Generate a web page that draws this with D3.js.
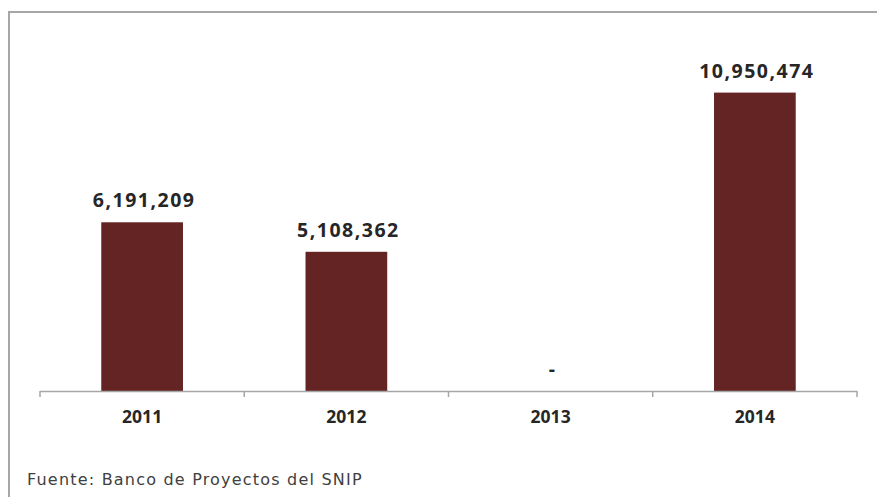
<!DOCTYPE html>
<html>
<head>
<meta charset="utf-8">
<script src="https://cdn.jsdelivr.net/npm/d3@7"></script>
<style>
  body { margin: 0; background: #fff; }
  svg { display: block; }
</style>
</head>
<body>
<svg></svg>
<script>
const years = ["2011", "2012", "2013", "2014"];
const values = [6191209, 5108362, 0, 10950474];
const yMax = 12000000;
const source = "Fuente: Banco de Proyectos del SNIP";

const width = 877;
const height = 497;
const svg = d3.select("svg").attr("width", width).attr("height", height);

// marco del gráfico
svg.append("path")
  .attr("d", `M9,${height + 2} V12 H${width + 2}`)
  .attr("fill", "none")
  .attr("stroke", "#a6a6a6")
  .attr("stroke-width", 2);

const margin = { left: 40, right: 20, top: 64, bottom: 106 };
const axisY = height - margin.bottom; // 391

const xScale = d3.scaleBand()
  .domain(years)
  .range([margin.left, width - margin.right])
  .paddingInner(0.6)
  .paddingOuter(0.3);

const yScale = d3.scaleLinear().domain([0, yMax]).range([axisY, margin.top]);

// barras
svg.selectAll("rect.bar")
  .data(values)
  .enter()
  .append("rect")
  .attr("class", "bar")
  .attr("x", (d, i) => xScale(years[i]))
  .attr("y", (d) => yScale(d))
  .attr("width", xScale.bandwidth())
  .attr("height", (d) => axisY - yScale(d))
  .attr("fill", "#632423");

// eje x con separadores entre categorías
const bounds = d3.range(years.length + 1).map((i) => margin.left + i * (width - margin.left - margin.right) / years.length);
const axisG = svg.append("g");
axisG.append("line")
  .attr("x1", bounds[0]).attr("x2", bounds[bounds.length - 1])
  .attr("y1", axisY + 0.5).attr("y2", axisY + 0.5)
  .attr("stroke", "#a6a6a6").attr("stroke-width", 1.5);
axisG.selectAll("line.tick")
  .data(bounds)
  .enter()
  .append("line")
  .attr("class", "tick")
  .attr("x1", (d) => d).attr("x2", (d) => d)
  .attr("y1", axisY).attr("y2", axisY + 6)
  .attr("stroke", "#a6a6a6").attr("stroke-width", 1.5);

axisG.selectAll("text")
  .data(years)
  .enter()
  .append("text")
  .attr("x", (d) => xScale(d) + xScale.bandwidth() / 2)
  .attr("y", axisY + 32)
  .attr("text-anchor", "middle")
  .attr("font-family", "Open Sans, sans-serif")
  .attr("font-weight", "bold")
  .attr("font-size", 17.5)
  .attr("fill", "#262626")
  .text((d) => d);

// etiquetas de valor
const fmt = d3.format(",");
svg.selectAll("text.value")
  .data(values)
  .enter()
  .append("text")
  .attr("class", "value")
  .attr("x", (d, i) => xScale(years[i]) + xScale.bandwidth() / 2 + 2)
  .attr("y", (d) => yScale(d) - 15)
  .attr("text-anchor", "middle")
  .attr("font-family", "Open Sans, sans-serif")
  .attr("font-weight", "bold")
  .attr("font-size", 19.5)
  .attr("letter-spacing", 1.5)
  .attr("fill", "#262626")
  .text((d) => (d === 0 ? "-" : fmt(d)));

// fuente
svg.append("text")
  .attr("x", 27)
  .attr("y", 485)
  .attr("font-family", "DejaVu Sans, sans-serif")
  .attr("font-size", 16)
  .attr("letter-spacing", 1.2)
  .attr("fill", "#404040")
  .text(source);
</script>
</body>
</html>
